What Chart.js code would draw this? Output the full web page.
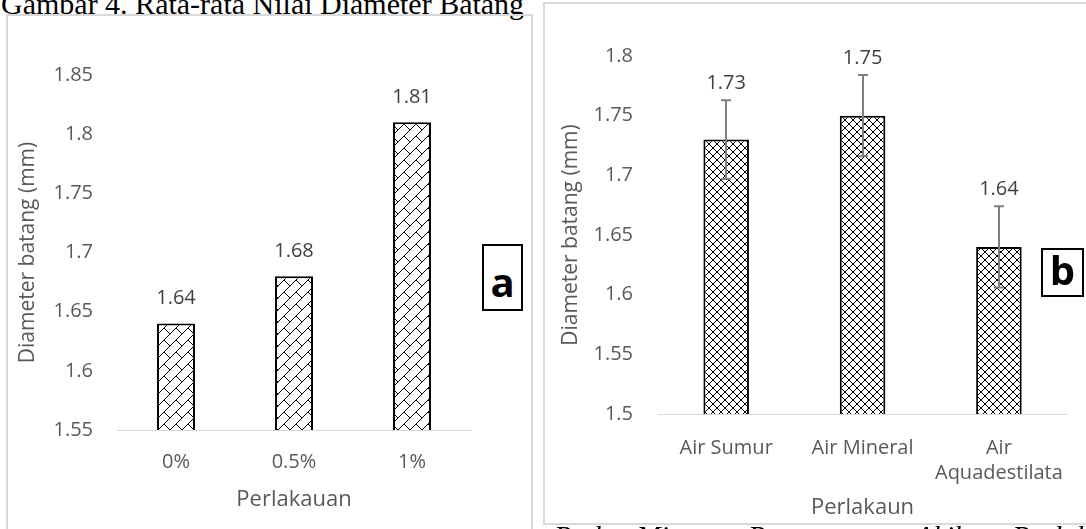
<!DOCTYPE html>
<html>
<head>
<meta charset="utf-8">
<script src="https://cdn.jsdelivr.net/npm/chart.js@4.4.0/dist/chart.umd.min.js"></script>
<style>
  body { margin: 0; width: 1086px; height: 529px; overflow: hidden; position: relative; background: #fff; }
  #figTitle { position: absolute; left: 1px; top: -11px; font: 30px 'Liberation Serif', serif; line-height: 30px; white-space: nowrap; color: #000; }
  #figNote { position: absolute; left: 554px; top: 522px; font: italic 29px 'Liberation Serif', serif; line-height: 29px; white-space: nowrap; word-spacing: 14px; color: #000; }
  .panel { position: absolute; box-sizing: border-box; border: 2px solid #d9d9d9; }
  #panelA { left: 6px; top: 14px; width: 527px; height: 530px; }
  #panelB { left: 543px; top: 2px; width: 560px; height: 523px; }
  .tag { position: absolute; box-sizing: border-box; border: 2px solid #000; background: #fff;
         font: bold 40px 'Open Sans', sans-serif; color: #000; display: flex; justify-content: center; align-items: center; }
  #tagA { left: 482px; top: 244px; width: 41px; height: 67px; padding-top: 8px; }
  #tagB { left: 1041px; top: 248px; width: 43px; height: 49px; padding-bottom: 6px; }
  canvas { position: absolute; }
  #chartA { left: 8px; top: 16px; }
  #chartB { left: 545px; top: 4px; }
</style>
</head>
<body>
<div id="figTitle">Gambar 4. Rata-rata Nilai Diameter Batang</div>
<div class="panel" id="panelA"></div>
<div class="panel" id="panelB"></div>
<canvas id="chartA" width="523" height="513"></canvas>
<canvas id="chartB" width="541" height="519"></canvas>
<div class="tag" id="tagA">a</div>
<div class="tag" id="tagB">b</div>
<div id="figNote">Pada Minggu Pengamatan Akibat Perlakuan</div>

<script>
// chart a
var labelsA = ['0%', '0.5%', '1%'];
var valuesA = [1.64, 1.68, 1.81];
var yTicksA = [1.55, 1.6, 1.65, 1.7, 1.75, 1.8, 1.85];

// chart b
var labelsB = ['Air Sumur', 'Air Mineral', ['Air', 'Aquadestilata']];
var valuesB = [1.73, 1.75, 1.64];
var errorsB = [0.033, 0.034, 0.034];
var yTicksB = [1.5, 1.55, 1.6, 1.65, 1.7, 1.75, 1.8];

Chart.defaults.font.family = "'Open Sans', sans-serif";
Chart.defaults.color = '#595959';
Chart.defaults.animation = false;

// hatch patterns, drawn pixel by pixel so they stay crisp
function BrickPattern()
{
  let c = document.createElement('canvas');
  c.width = 12; c.height = 12;
  let g = c.getContext('2d');
  g.fillStyle = '#fff'; g.fillRect(0, 0, 12, 12);
  g.fillStyle = '#000';
  for (let i = 0; i < 12; i++) g.fillRect(11 - i, i, 1, 1); // long "/" line
  for (let i = 0; i < 6; i++) g.fillRect(i, i, 1, 1);      // short "\" step
  return g.createPattern(c, 'repeat');
}

function DiamondPattern()
{
  let c = document.createElement('canvas');
  c.width = 8; c.height = 8;
  let g = c.getContext('2d');
  g.fillStyle = '#fff'; g.fillRect(0, 0, 8, 8);
  g.fillStyle = '#000';
  for (let i = 0; i < 8; i++) {
    g.fillRect(i, i, 1, 1);
    g.fillRect(7 - i, i, 1, 1);
  }
  return g.createPattern(c, 'repeat');
}

// value labels + optional error bars
const barExtras = {
  id: 'barExtras',
  afterDatasetsDraw(chart, args, opts) {
    const ctx = chart.ctx;
    const meta = chart.getDatasetMeta(0);
    const data = chart.data.datasets[0].data;
    const yScale = chart.scales.y;
    meta.data.forEach((bar, i) => {
      let v = data[i];
      let top = bar.y;
      if (opts.errors) {
        let e = opts.errors[i];
        let hi = yScale.getPixelForValue(v + e);
        let lo = yScale.getPixelForValue(v - e);
        let x = Math.round(bar.x);
        ctx.save();
        ctx.strokeStyle = '#7f7f7f';
        ctx.lineWidth = 2;
        ctx.beginPath();
        ctx.moveTo(x, hi); ctx.lineTo(x, lo);
        ctx.moveTo(x - 5, hi); ctx.lineTo(x + 5, hi);
        ctx.moveTo(x - 5, lo); ctx.lineTo(x + 5, lo);
        ctx.stroke();
        ctx.restore();
        top = hi;
      }
      ctx.save();
      ctx.fillStyle = '#404040';
      ctx.font = "20px 'Open Sans', sans-serif";
      ctx.textAlign = 'center';
      ctx.textBaseline = 'middle';
      ctx.fillText(v.toFixed(2), bar.x, top - opts.gap);
      ctx.restore();
    });
  }
};

function MakeChart(id, labels, values, ticks, pattern, setup)
{
  return new Chart(document.getElementById(id), {
    type: 'bar',
    data: {
      labels: labels,
      datasets: [{
        data: values,
        backgroundColor: pattern,
        borderColor: '#000',
        borderWidth: 2,
        categoryPercentage: 1,
        barPercentage: setup.barPct
      }]
    },
    plugins: [barExtras],
    options: {
      responsive: false,
      layout: { padding: { top: setup.padTop, right: setup.padRight, bottom: 0, left: 0 } },
      plugins: {
        legend: { display: false },
        tooltip: { enabled: false },
        barExtras: { errors: setup.errors, gap: setup.gap }
      },
      scales: {
        x: {
          grid: { display: false, drawTicks: false },
          border: { display: true, color: '#d9d9d9', width: 1 },
          ticks: { padding: setup.xTickPad, font: { size: 20, lineHeight: 1.25 }, color: '#595959', maxRotation: 0 },
          title: { display: true, text: setup.xTitle, font: { size: 22 }, color: '#595959', padding: { top: 0, bottom: setup.xTitlePad } },
          afterFit: (s) => { s.height = setup.xHeight; }
        },
        y: {
          min: ticks[0],
          max: ticks[ticks.length - 1],
          grid: { display: false, drawTicks: false },
          border: { display: false },
          afterBuildTicks: (s) => { s.ticks = ticks.map(v => ({ value: v })); },
          ticks: { padding: setup.yTickPad, font: { size: 20 }, color: '#595959', callback: (v) => String(+v.toFixed(2)) },
          title: { display: true, text: 'Diameter batang (mm)', font: { size: 21 }, color: '#595959', padding: { top: setup.yTitlePad, bottom: 0 } },
          afterFit: (s) => { s.width = setup.yWidth; }
        }
      }
    }
  });
}

MakeChart('chartA', labelsA, valuesA, yTicksA, BrickPattern(), {
  barPct: 0.322, padTop: 59, padRight: 60, xHeight: 99, yWidth: 109,
  xTickPad: 20, xTitlePad: 16, yTickPad: 24, yTitlePad: 7, xTitle: 'Perlakauan', gap: 25
});

MakeChart('chartB', labelsB, valuesB, yTicksB, DiamondPattern(), {
  barPct: 0.334, padTop: 52, padRight: 7, xHeight: 109, yWidth: 113,
  xTickPad: 22, xTitlePad: 2, yTickPad: 25, yTitlePad: 13, xTitle: 'Perlakaun', gap: 17, errors: errorsB
});
</script>
</body>
</html>
